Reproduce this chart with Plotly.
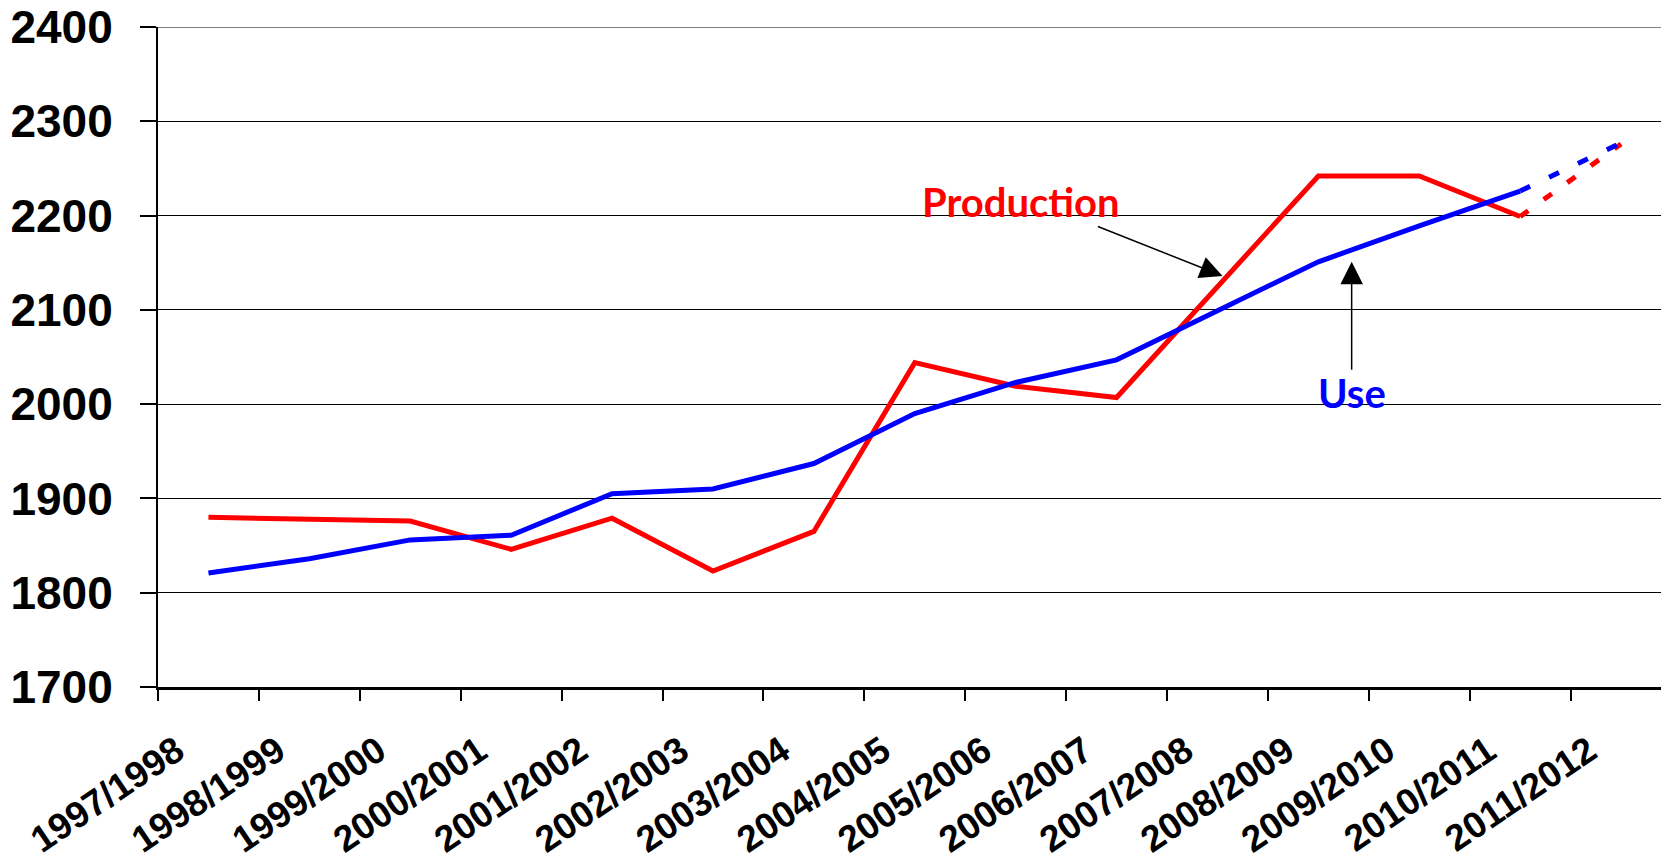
import plotly.graph_objects as go

categories = ["1997/1998", "1998/1999", "1999/2000", "2000/2001", "2001/2002",
              "2002/2003", "2003/2004", "2004/2005", "2005/2006", "2006/2007",
              "2007/2008", "2008/2009", "2009/2010", "2010/2011", "2011/2012"]
production = [1880, 1878, 1876, 1846, 1879, 1823, 1865, 2044, 2019, 2007,
              2124, 2242, 2242, 2199, 2276]
use = [1821, 1836, 1856, 1861, 1905, 1910, 1937, 1990, 2023, 2047,
       2099, 2151, 2189, 2226, 2277]
y_ticks = [1700, 1800, 1900, 2000, 2100, 2200, 2300, 2400]

RED = "#FF0000"
BLUE = "#0000FF"
n_solid = 14  # last value is a projection (dashed)

fig = go.Figure()
for vals, col, dash in [(production, RED, "10px,19px"), (use, BLUE, "11px,21px")]:
    fig.add_trace(go.Scatter(x=categories[:n_solid], y=vals[:n_solid], mode="lines",
                             line=dict(color=col, width=5), showlegend=False))
    fig.add_trace(go.Scatter(x=categories[n_solid - 1:], y=vals[n_solid - 1:], mode="lines",
                             line=dict(color=col, width=5, dash=dash), showlegend=False))

# top gridline at the range edge
fig.add_hline(y=y_ticks[-1], line_color="black", line_width=1.2)

# text labels and arrows (data coordinates)
fig.add_annotation(x=8.05, y=2214, text="<b>Production</b>", showarrow=False,
                   font=dict(family="Lato", size=40, color=RED), xanchor="center", yanchor="middle")
fig.add_annotation(x=11.33, y=2012, text="<b>Use</b>", showarrow=False,
                   font=dict(family="Lato", size=40, color=BLUE), xanchor="center", yanchor="middle")
fig.add_annotation(x=10.05, y=2136, ax=8.80, ay=2189, axref="x", ayref="y", text="",
                   showarrow=True, arrowhead=2, arrowsize=3, arrowwidth=1.5, arrowcolor="black")
fig.add_annotation(x=11.33, y=2151, ax=11.33, ay=2035, axref="x", ayref="y", text="",
                   showarrow=True, arrowhead=2, arrowsize=3, arrowwidth=1.5, arrowcolor="black")

fig.update_layout(
    width=1669, height=861,
    margin=dict(l=150, r=8, t=19, b=182),
    paper_bgcolor="white", plot_bgcolor="white",
    showlegend=False,
)
fig.update_xaxes(
    type="category", range=[-0.5, 14.475], automargin=False,
    showline=True, linecolor="black", linewidth=2.5,
    showgrid=False, tickson="boundaries", ticks="outside", ticklen=11, tickwidth=1.5, tickcolor="black",
    tickangle=-34, ticklabelshift=-32, ticklabelstandoff=25,
    tickfont=dict(family="Liberation Sans, Arial, sans-serif", size=37, color="black", weight="bold"),
)
fig.update_yaxes(
    range=[1700, 2400], tickvals=y_ticks, automargin=False, ticklabeloverflow="allow",
    showline=True, linecolor="black", linewidth=2,
    showgrid=True, gridcolor="black", gridwidth=1.2,
    ticks="outside", ticklen=16, tickwidth=1.5, tickcolor="black",
    ticklabelstandoff=18, zeroline=False,
    tickfont=dict(family="Liberation Sans, Arial, sans-serif", size=46, color="black", weight="bold"),
)

fig.write_html("out.html")
